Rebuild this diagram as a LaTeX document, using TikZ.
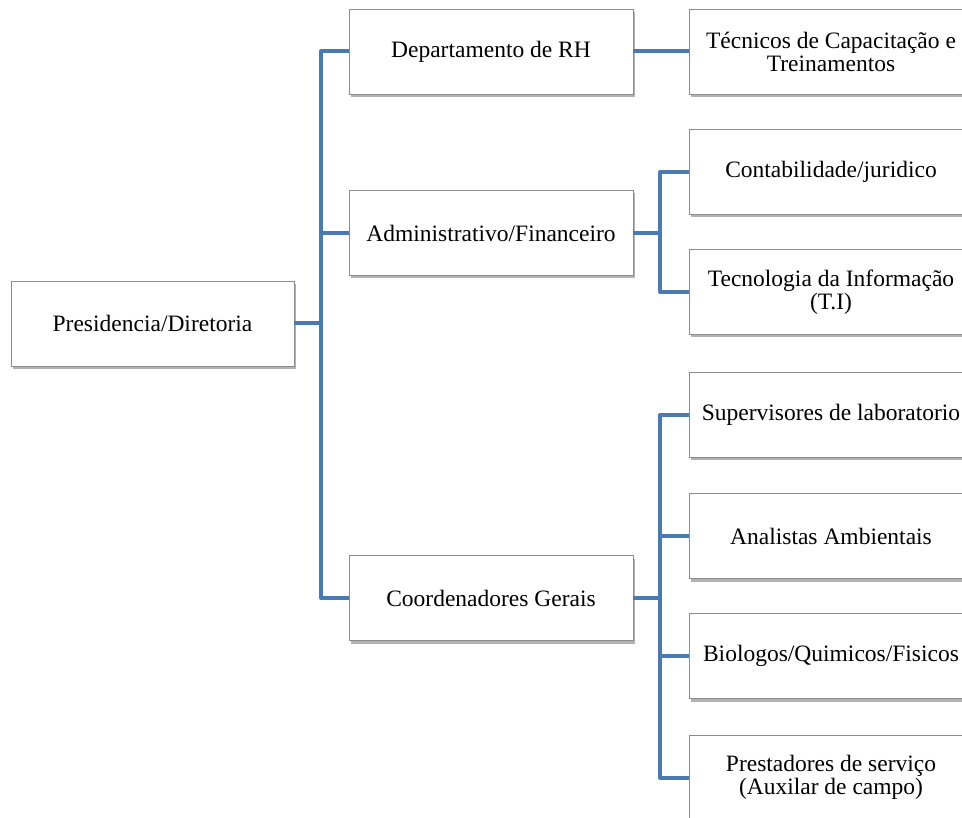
\documentclass[tikz,border=0pt]{standalone}
\usepackage{fontspec}
\setmainfont{Liberation Serif}
\usetikzlibrary{shadows}
\definecolor{conncol}{RGB}{74,122,180}
\definecolor{boxline}{RGB}{140,140,140}
\tikzset{
  box/.style={draw=boxline, line width=0.8pt, fill=white, minimum width=284, minimum height=85,
    inner sep=2pt, align=center, font=\fontsize{23.5}{23}\selectfont,
    drop shadow={shadow xshift=1.5pt, shadow yshift=-3pt, opacity=0.3, fill=black}},
  conn/.style={draw=conncol, line width=4pt, line join=round}
}
\begin{document}
\begin{tikzpicture}[x=1pt,y=-1pt]
\useasboundingbox (0,0) rectangle (962,818);
\begin{scope}
\clip (0,0) rectangle (962,818);
% nodes
\node[box, minimum width=283] (pres) at (152.5,323.5) {Presidencia/Diretoria};
\node[box] (dep) at (491,51.5) {Departamento de RH};
\node[box] (adm) at (491,233) {Administrativo/Financeiro};
\node[box] (coo) at (491,598) {Coordenadores Gerais};
\node[box] (tec) at (831,51.5) {Técnicos de Capacitação e\\Treinamentos};
\node[box] (cont) at (831,172) {Contabilidade/juridico};
\node[box] (ti) at (831,292) {Tecnologia da Informação\\(T.I)};
\node[box] (sup) at (831,415) {Supervisores de laboratorio};
\node[box] (ana) at (831,536) {Analistas Ambientais};
\node[box] (bio) at (831,656) {Biologos/Quimicos/Fisicos};
\node[box] (pre) at (831,777.5) {Prestadores de serviço\\(Auxilar de campo)};
% trunk
\coordinate (t1) at (321,323.5);
\draw[conn] (pres.east) -- (t1);
\draw[conn] (dep.west) -- (dep.west -| t1) -- (coo.west -| t1) -- (coo.west);
\draw[conn] (adm.west) -- (adm.west -| t1);
% RH -> tecnicos
\draw[conn] (dep.east) -- (tec.west);
% admin bracket
\coordinate (t2) at (660,233);
\draw[conn] (adm.east) -- (t2);
\draw[conn] (cont.west) -- (cont.west -| t2) -- (ti.west -| t2) -- (ti.west);
% coordenadores bracket
\coordinate (t3) at (660,598);
\draw[conn] (coo.east) -- (t3);
\draw[conn] (sup.west) -- (sup.west -| t3) -- (pre.west -| t3) -- (pre.west);
\draw[conn] (ana.west) -- (ana.west -| t3);
\draw[conn] (bio.west) -- (bio.west -| t3);
\end{scope}
\end{tikzpicture}
\end{document}
